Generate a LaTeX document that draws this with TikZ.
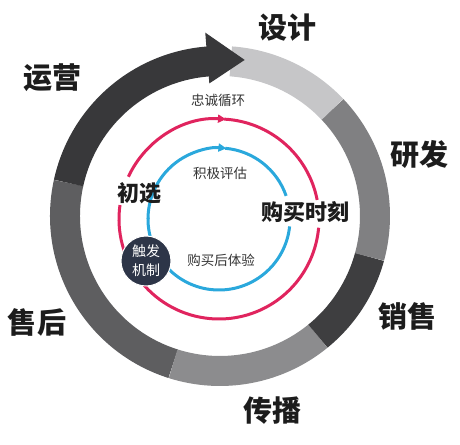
\documentclass[tikz,border=0pt]{standalone}
\usepackage{fontspec}
\newfontfamily\cjk{Noto Sans CJK SC}
\usetikzlibrary{arrows.meta}
\definecolor{segArrow}{HTML}{38383A}
\definecolor{segDesign}{HTML}{C6C6C8}
\definecolor{segRD}{HTML}{808082}
\definecolor{segSales}{HTML}{3E3E40}
\definecolor{segSpread}{HTML}{8C8C8E}
\definecolor{segAfter}{HTML}{5E5E60}
\definecolor{loopRed}{HTML}{E0245E}
\definecolor{loopBlue}{HTML}{2AA8DC}
\definecolor{trigNavy}{HTML}{2D3548}
\definecolor{txtDark}{HTML}{1C1C1C}
\definecolor{txtGray}{HTML}{333333}
\begin{document}
\begin{tikzpicture}[x=1pt,y=1pt,
  seg/.style={line width=30pt},
  loop/.style={line width=3pt},
  tipArrow/.style={-{Triangle[length=8pt,width=8pt]}},
  biglabel/.style={font=\cjk\bfseries\fontsize{29}{29}\selectfont, text=txtDark, inner sep=0pt},
  midlabel/.style={font=\cjk\bfseries\fontsize{22}{22}\selectfont, text=txtDark, inner sep=0pt},
  smalllabel/.style={font=\cjk\fontsize{13.5}{13.5}\selectfont, text=txtGray, inner sep=0pt},
  trigger/.style={circle, fill=trigNavy, draw=white, line width=1pt, minimum size=50pt, inner sep=0pt,
    text=white, align=center, font=\cjk\fontsize{14}{19}\selectfont}
]
\useasboundingbox (0,0) rectangle (460,444);
\coordinate (c) at (220,228);
\coordinate (ic) at (219,225);

% outer ring segments
\draw[seg, segAfter]  ([shift={(c)}]167.7:155) arc[start angle=167.7, end angle=252.4, radius=155];
\draw[seg, segSpread] ([shift={(c)}]252.4:155) arc[start angle=252.4, end angle=309.2, radius=155];
\draw[seg, segSales]  ([shift={(c)}]309.2:155) arc[start angle=309.2, end angle=344.7, radius=155];
\draw[seg, segRD]     ([shift={(c)}]-15.3:155) arc[start angle=-15.3, end angle=43.5, radius=155];
\draw[seg, segDesign] ([shift={(c)}]43.5:155) arc[start angle=43.5, end angle=86, radius=155];
% big arrow (operation)
\draw[seg, segArrow]  ([shift={(c)}]167.7:155) arc[start angle=167.7, end angle=94, radius=155];
\fill[segArrow] ([shift={(c)}]94.6:133) -- ([shift={(c)}]94.6:184) -- ([shift={(c)}]81:158) -- cycle;

% red loop
\draw[loop, loopRed, tipArrow] ([shift={(ic)}]155:100) arc[start angle=155, end angle=86, radius=100];
\draw[loop, loopRed] ([shift={(ic)}]87:100) arc[start angle=87, end angle=11, radius=100];
\draw[loop, loopRed] ([shift={(ic)}]172:100) arc[start angle=172, end angle=355, radius=100];

% blue loop
\draw[loop, loopBlue, tipArrow] ([shift={(ic)}]180:71) arc[start angle=180, end angle=84, radius=71];
\draw[loop, loopBlue] ([shift={(ic)}]85:71) arc[start angle=85, end angle=19, radius=71];
\draw[loop, loopBlue] ([shift={(ic)}]179:71) arc[start angle=179, end angle=354, radius=71];

% trigger circle
\node[trigger] (trig) at (146,183) {触发\\机制};

% labels
\node[biglabel] (sheji)   at (287,416) {设计};
\node[biglabel] (yunying) at (52,366)  {运营};
\node[biglabel] (yanfa)   at (419,290) {研发};
\node[biglabel] (xiaoshou) at (407,128) {销售};
\node[biglabel] (shouhou) at (37,122)  {售后};
\node[biglabel] (chuanbo) at (272,33)  {传播};

\node[midlabel] (chuxuan) at (139,251) {初选};
\node[midlabel] (goumai)  at (305,232) {购买时刻};

\node[smalllabel] (zhongcheng) at (218,344) {忠诚循环};
\node[smalllabel] (jiji)       at (220,271) {积极评估};
\node[smalllabel] (houtiyan)   at (221,184) {购买后体验};
\end{tikzpicture}
\end{document}
